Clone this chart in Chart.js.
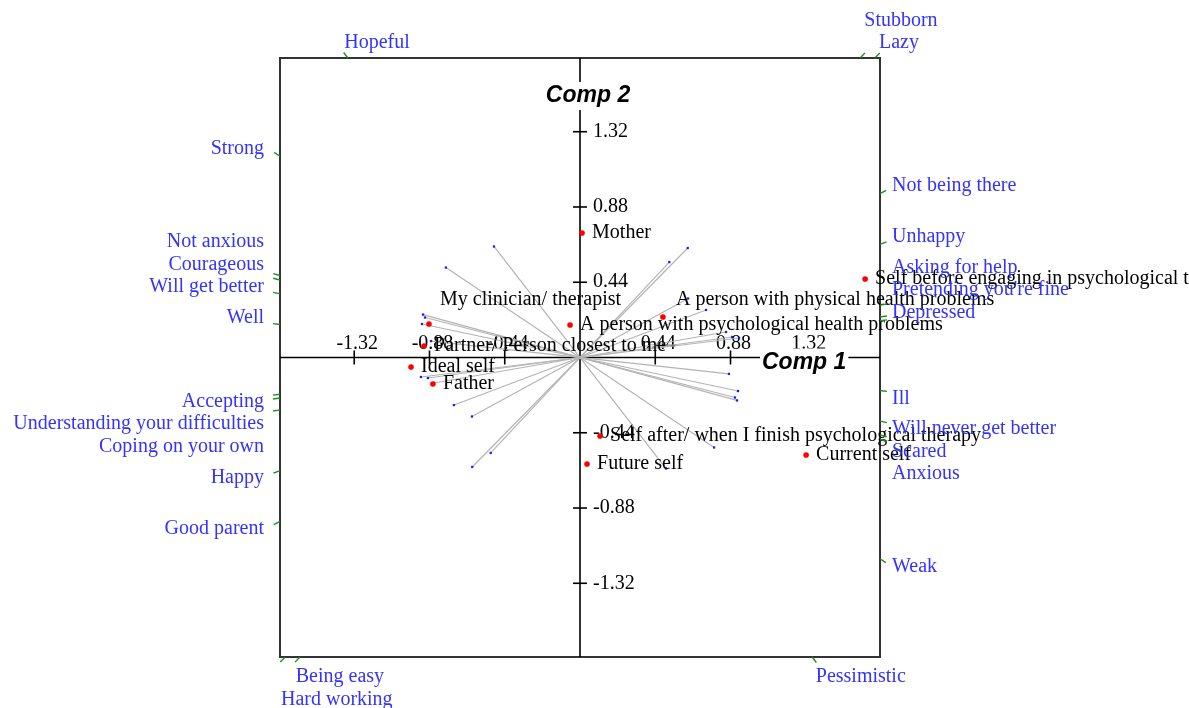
<!DOCTYPE html>
<html>
<head>
<meta charset="utf-8">
<script src="https://cdn.jsdelivr.net/npm/chart.js@4.4.1/dist/chart.umd.min.js"></script>
<style>
  body { margin: 0; background: #fff; }
  canvas { display: block; }
</style>
</head>
<body>
<canvas id="biplot" width="1189" height="708"></canvas>
<script>
// elements (red points)
const elementNames = [
    'Mother',
    'My clinician/ therapist',
    'A person with psychological health problems',
    'A person with physical health problems',
    'Self before engaging in psychological therapy',
    'Partner/ Person closest to me',
    'Ideal self',
    'Father',
    'Self after/ when I finish psychological therapy',
    'Future self',
    'Current self'
];
const elementX = [0.012, -0.883, -0.058, 0.485, 1.667, -0.912, -0.988, -0.860, 0.117, 0.041, 1.322];
const elementY = [0.728, 0.196, 0.190, 0.237, 0.459, 0.067, -0.056, -0.155, -0.459, -0.623, -0.570];

// constructs: loading points toward poleA, poleB is the opposite end
const poleA = ['Hopeful', 'Stubborn', 'Lazy', 'Strong', 'Not anxious', 'Courageous', 'Will get better',
    'Well', 'Accepting', 'Understanding your difficulties', 'Coping on your own', 'Happy', 'Good parent'];
const poleB = ['Pessimistic', 'Being easy', 'Hard working', 'Weak', 'Anxious', 'Scared', 'Will never get better',
    'Ill', 'Depressed', "Pretending you're fine", 'Asking for help', 'Unhappy', 'Not being there'];
const loadX = [-0.503, 0.522, 0.630, -0.784, -0.918, -0.906, -0.924, -0.871, -0.930, -0.889, -0.854, -0.737, -0.632];
const loadY = [0.649, 0.558, 0.640, 0.526, 0.251, 0.234, 0.196, 0.096, -0.114, -0.120, -0.149, -0.278, -0.345];

const tickValues = [-1.32, -0.88, -0.44, 0.44, 0.88, 1.32];
const tickLabels = ['-1.32', '-0.88', '-0.44', '0.44', '0.88', '1.32'];
const axisMaxX = 1.754;
const axisMaxY = 1.751;

const SERIF = '20px "Liberation Serif", "Times New Roman", serif';
const BLUE = '#3333ff';
const GREEN = '#228b22';
// a couple of labels were moved by the original program to dodge each other
const labelNudge = { 1: [11, -24], 3: [13, -17] };

function line(ctx, x1, y1, x2, y2) {
    ctx.beginPath();
    ctx.moveTo(x1, y1);
    ctx.lineTo(x2, y2);
    ctx.stroke();
}

function borderHit(a, cx, cy, dx, dy) {
    const hw = (a.right - a.left) / 2, hh = (a.bottom - a.top) / 2;
    const tx = dx !== 0 ? hw / Math.abs(dx) : Infinity;
    const ty = dy !== 0 ? hh / Math.abs(dy) : Infinity;
    const t = Math.min(tx, ty);
    let side;
    if (tx < ty) side = dx < 0 ? 'left' : 'right';
    else side = dy < 0 ? 'top' : 'bottom';
    return { x: cx + dx * t, y: cy + dy * t, side: side };
}

const biplotDecor = {
    id: 'biplotDecor',
    beforeDatasetsDraw(chart) {
        const { ctx, chartArea: a, scales: { x, y } } = chart;
        const cx = x.getPixelForValue(0), cy = y.getPixelForValue(0);
        ctx.save();
        ctx.strokeStyle = '#333';
        ctx.lineWidth = 2;
        ctx.strokeRect(a.left, a.top, a.right - a.left, a.bottom - a.top);

        ctx.strokeStyle = '#000';
        ctx.lineWidth = 1.6;
        line(ctx, a.left, cy, a.right, cy);
        line(ctx, cx, a.top, cx, a.bottom);

        ctx.font = SERIF;
        ctx.fillStyle = '#000';
        tickValues.forEach((v, i) => {
            const px = x.getPixelForValue(v);
            const py = y.getPixelForValue(v);
            line(ctx, px, cy - 7, px, cy + 7);
            line(ctx, cx - 7, py, cx + 7, py);
            ctx.textAlign = 'center';
            ctx.textBaseline = 'middle';
            ctx.fillText(tickLabels[i], px + 3, cy - 14);
            ctx.textAlign = 'left';
            ctx.fillText(tickLabels[i], cx + 13, py);
        });

        // axis titles, with white behind them
        ctx.font = 'italic bold 23px "Liberation Sans", Arial, sans-serif';
        ctx.textBaseline = 'middle';
        ctx.textAlign = 'left';
        const t2 = 'Comp 2', t1 = 'Comp 1';
        const w2 = ctx.measureText(t2).width, w1 = ctx.measureText(t1).width;
        const x2 = cx + 8 - w2 / 2, y2 = a.top + 38;
        const x1 = a.right - 118, y1 = cy + 5;
        ctx.fillStyle = '#fff';
        ctx.fillRect(x2 - 2, y2 - 14, w2 + 4, 28);
        ctx.fillRect(x1 - 2, y1 - 14, w1 + 4, 28);
        ctx.fillStyle = '#000';
        ctx.fillText(t2, x2, y2);
        ctx.fillText(t1, x1, y1);
        ctx.restore();
    },
    afterDatasetsDraw(chart) {
        const { ctx, chartArea: a, scales: { x, y } } = chart;
        const cx = x.getPixelForValue(0), cy = y.getPixelForValue(0);
        ctx.save();
        ctx.font = SERIF;
        ctx.textBaseline = 'middle';

        // element labels
        ctx.fillStyle = '#000';
        ctx.textAlign = 'left';
        elementNames.forEach((name, i) => {
            const n = labelNudge[i] || [10, 0];
            ctx.fillText(name, x.getPixelForValue(elementX[i]) + n[0], y.getPixelForValue(elementY[i]) + n[1]);
        });

        // construct poles on the frame
        const poles = [];
        poleA.forEach((name, i) => {
            const dx = x.getPixelForValue(loadX[i]) - cx;
            const dy = y.getPixelForValue(loadY[i]) - cy;
            poles.push({ name: name, dx: dx, dy: dy });
            poles.push({ name: poleB[i], dx: -dx, dy: -dy });
        });
        poles.forEach(p => {
            const hit = borderHit(a, cx, cy, p.dx, p.dy);
            const len = Math.hypot(p.dx, p.dy);
            p.ux = p.dx / len; p.uy = p.dy / len;
            p.bx = hit.x; p.by = hit.y; p.side = hit.side;
            p.w = ctx.measureText(p.name).width;
            if (p.side === 'left') { p.x0 = p.bx - 16 - p.w; p.y = p.by + (p.by < cy ? -7 : 7); p.dir = p.by < cy ? -1 : 1; }
            else if (p.side === 'right') { p.x0 = p.bx + 12; p.y = p.by + (p.by < cy ? -8 : 8); p.dir = p.by < cy ? -1 : 1; }
            else if (p.side === 'top') { p.x0 = p.bx + 6 * p.ux; p.y = p.by - 15; p.dir = -1; }
            else { p.x0 = p.bx + 6 * p.ux; p.y = p.by + 20; p.dir = 1; }
        });

        // stack labels outward when they collide
        const gap = 22.5;
        const order = poles.slice().sort((p, q) => {
            const ps = p.side === 'top' || p.side === 'bottom';
            const qs = q.side === 'top' || q.side === 'bottom';
            if (ps && qs) return q.bx - p.bx;
            return Math.abs(p.by - cy) - Math.abs(q.by - cy);
        });
        const placed = [];
        order.forEach(p => {
            let moved = true;
            while (moved) {
                moved = false;
                placed.forEach(q => {
                    if (q.side !== p.side) return;
                    const overlapX = p.x0 < q.x0 + q.w && q.x0 < p.x0 + p.w;
                    if (overlapX && Math.abs(p.y - q.y) < gap - 0.01) {
                        p.y = q.y + p.dir * gap;
                        moved = true;
                    }
                });
            }
            placed.push(p);
        });

        ctx.strokeStyle = GREEN;
        ctx.lineWidth = 1.4;
        ctx.fillStyle = BLUE;
        poles.forEach(p => {
            line(ctx, p.bx, p.by, p.bx + 7 * p.ux, p.by + 7 * p.uy);
            ctx.fillText(p.name, p.x0, p.y);
        });
        ctx.restore();
    }
};

const constructSets = poleA.map((name, i) => ({
    label: name + ' / ' + poleB[i],
    data: [{ x: -loadX[i], y: -loadY[i] }, { x: loadX[i], y: loadY[i] }],
    showLine: true,
    borderColor: '#b4b4b4',
    borderWidth: 1.2,
    pointRadius: 1.6,
    pointStyle: 'rect',
    pointBackgroundColor: '#1a1aff',
    pointBorderWidth: 0
}));

const elementSet = {
    label: 'Elements',
    data: elementX.map((v, i) => ({ x: v, y: elementY[i] })),
    pointRadius: 2.8,
    pointBackgroundColor: '#ff0000',
    pointBorderWidth: 0,
    showLine: false
};

new Chart(document.getElementById('biplot'), {
    type: 'scatter',
    data: { datasets: [elementSet].concat(constructSets) },
    options: {
        responsive: false,
        animation: false,
        events: [],
        layout: { padding: { left: 280, right: 309, top: 58, bottom: 51 } },
        plugins: { legend: { display: false }, tooltip: { enabled: false } },
        scales: {
            x: { type: 'linear', display: false, min: -axisMaxX, max: axisMaxX },
            y: { type: 'linear', display: false, min: -axisMaxY, max: axisMaxY }
        }
    },
    plugins: [biplotDecor]
});
</script>
</body>
</html>
